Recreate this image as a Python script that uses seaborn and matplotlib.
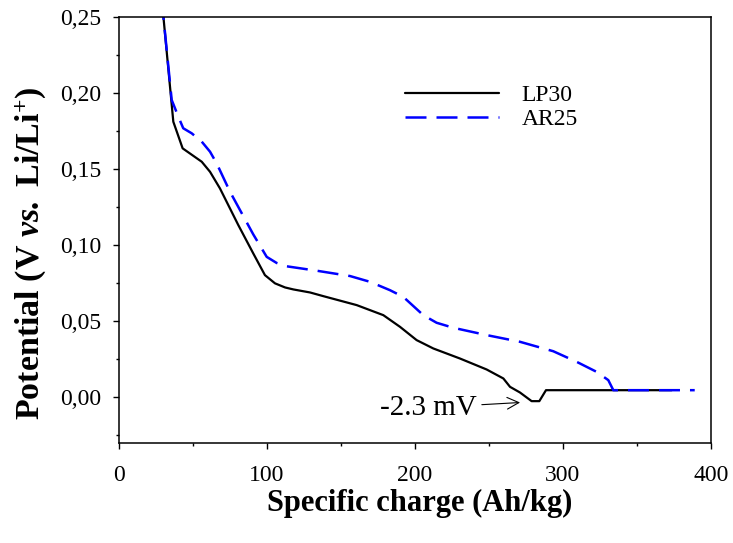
import numpy as np
import pandas as pd
import matplotlib
matplotlib.use("Agg")
import matplotlib.pyplot as plt
from matplotlib.ticker import MultipleLocator, FuncFormatter
import seaborn as sns

# ---- data ----
lp30_x = [26, 30, 36.7, 43, 55.9, 61.5, 68.2, 80.6, 90.7, 98.6, 105.4, 112.2, 117.8,
          129.1, 138, 160.6, 178.6, 189.9, 201.1, 212.4, 230.4, 248.4, 259.7, 264.2,
          270.9, 278.8, 284, 288.5, 338.5, 373.4]
lp30_y = [0.29, 0.25, 0.181, 0.1635, 0.1547, 0.1481, 0.1372, 0.1131, 0.0945, 0.0802,
          0.0748, 0.0721, 0.0708, 0.0688, 0.0664, 0.0605, 0.0539, 0.0462, 0.0375, 0.032,
          0.0254, 0.0182, 0.0123, 0.0068, 0.0031, -0.0026, -0.0026, 0.0046, 0.0046, 0.0046]

ar25_x = [26, 30, 35.6, 40.1, 43.4, 49.1, 55.9, 61.5, 66.0, 75.0, 90.7, 99.8, 106.5,
          113.3, 133.6, 156.1, 169.6, 183.1, 192.1, 205.6, 214.6, 225.9, 248.4, 270.9,
          293.4, 309.3, 322.8, 330.6, 334, 389]
ar25_y = [0.29, 0.25, 0.1953, 0.1843, 0.1767, 0.1734, 0.1679, 0.1613, 0.1536, 0.135,
          0.1070, 0.0922, 0.0882, 0.0860, 0.0831, 0.0796, 0.0758, 0.0703, 0.0659, 0.0539,
          0.0489, 0.0456, 0.0408, 0.0364, 0.0302, 0.0232, 0.0166, 0.0112, 0.0046, 0.0046]

series_names = ["LP30", "AR25"]
x_ticks = [0, 100, 200, 300, 400]
y_ticks = [0.00, 0.05, 0.10, 0.15, 0.20, 0.25]
annot_text = "-2.3 mV"
annot_point = (271, -0.0035)

# ---- style ----
sns.set_style("ticks")
plt.rcParams["font.family"] = ["Liberation Serif", "DejaVu Serif"]
plt.rcParams["mathtext.fontset"] = "custom"
plt.rcParams["mathtext.rm"] = "Liberation Serif"
plt.rcParams["mathtext.it"] = "Liberation Serif:italic"
plt.rcParams["mathtext.bf"] = "Liberation Serif:bold"
plt.rcParams["mathtext.bfit"] = "Liberation Serif:bold:italic"
plt.rcParams["text.color"] = "black"
plt.rcParams["axes.labelcolor"] = "black"
plt.rcParams["xtick.color"] = "black"
plt.rcParams["ytick.color"] = "black"

fig = plt.figure(figsize=(7.33, 5.43), dpi=100)
ax = fig.add_axes([119 / 733, 1 - 443.3 / 543, (711 - 119) / 733, (443.3 - 16.7) / 543])

df1 = pd.DataFrame({"x": lp30_x, "y": lp30_y})
df2 = pd.DataFrame({"x": ar25_x, "y": ar25_y})
sns.lineplot(data=df1, x="x", y="y", ax=ax, sort=False, color="black", lw=1.6,
             label=series_names[0])
sns.lineplot(data=df2, x="x", y="y", ax=ax, sort=False, color="#0000ff", lw=1.8,
             dashes=False, label=series_names[1])
ax.lines[1].set_dashes((8.4, 4))

ax.set_xlim(0, 400)
ax.set_ylim(-0.0303, 0.25)
ax.set_xticks(x_ticks)
ax.set_yticks(y_ticks)
ax.xaxis.set_minor_locator(MultipleLocator(50))
ax.yaxis.set_minor_locator(MultipleLocator(0.025))
ax.yaxis.set_major_formatter(FuncFormatter(lambda v, p: f"{v:.2f}".replace(".", ",")))
ax.xaxis.set_major_formatter(FuncFormatter(lambda v, p: f"{v:.0f}"))
ax.tick_params(which="major", direction="out", length=4.5, width=1, labelsize=17,
               colors="black", pad=8)
ax.tick_params(which="minor", direction="out", length=2.5, width=1, colors="black")
ax.tick_params(axis="x", which="major", pad=11)
for s in ax.spines.values():
    s.set_color("black")
    s.set_linewidth(1.1)

ax.set_xlabel("Specific charge (Ah/kg)", fontsize=22, fontweight="bold")
ax.set_ylabel(r"Potential (V $\mathbfit{vs.}$ Li/Li$^{\mathbf{+}}$)", fontsize=24.5,
              fontweight="bold")
ax.xaxis.set_label_coords(0.508, -0.107)
ax.yaxis.set_label_coords(-0.12, 0.446)

leg = ax.legend(loc="center left", bbox_to_anchor=(0.483, 0.787), frameon=False,
                fontsize=17, handlelength=4.0, handletextpad=0.95, borderpad=0,
                borderaxespad=0, labelspacing=0.1)

ax.annotate(annot_text, xy=annot_point, xytext=(242, -0.0069), ha="right", va="center",
            fontsize=21,
            arrowprops=dict(arrowstyle="->", lw=0.8, color="black", shrinkA=1, shrinkB=0))

fig.savefig("out.png", dpi=100)
